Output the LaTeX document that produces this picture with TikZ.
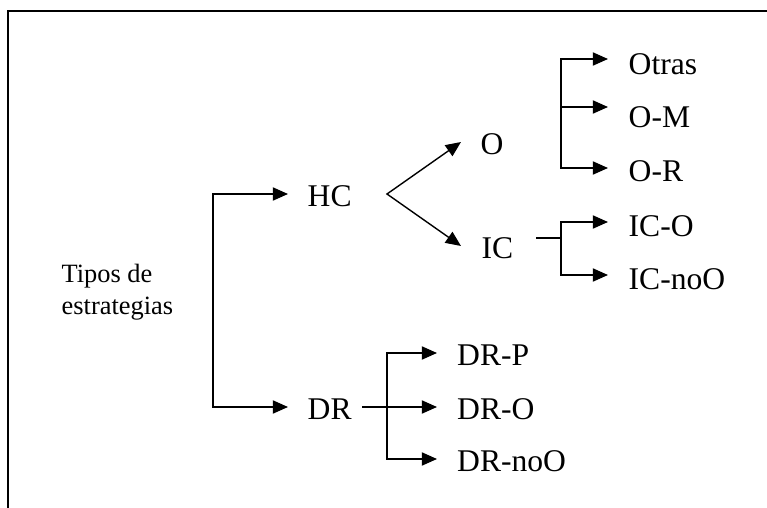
\documentclass[tikz,border=0pt]{standalone}
\usepackage{fontspec}
\setmainfont{Liberation Serif}
\usetikzlibrary{arrows.meta}

\begin{document}
\begin{tikzpicture}[x=0.5pt,y=-0.5pt,line width=0.7pt,
  item node/.style={inner sep=0pt,anchor=base west,font=\fontsize{15.8}{19}\selectfont},
  arr/.style={-{Triangle[length=7.6pt,width=6.6pt]}},
  twoarr/.style={{Triangle[length=7.6pt,width=6.6pt]}-{Triangle[length=7.6pt,width=6.6pt]}}]

  \useasboundingbox (0,0) rectangle (767,508);
  \draw[line width=1pt] (767,11) -- (8,11) -- (8,508);

  \node[inner sep=0pt,anchor=north west,align=left,font=\fontsize{13.2}{16}\selectfont] at (61,263) (tipos) {Tipos de\\estrategias};

  \node[item node] at (307,207) (hc) {HC};
  \node[item node] at (307,419) (dr) {DR};
  \node[item node] at (480,155) (o) {O};
  \node[item node] at (481,259) (ic) {IC};
  \node[item node] at (628,75) (otras) {Otras};
  \node[item node] at (628,128) (om) {O-M};
  \node[item node] at (628,181.5) (or) {O-R};
  \node[item node] at (628,236.5) (ico) {IC-O};
  \node[item node] at (628,290) (icnoo) {IC-noO};
  \node[item node] at (456.5,365) (drp) {DR-P};
  \node[item node] at (456.5,419) (dro) {DR-O};
  \node[item node] at (456.5,471.5) (drnoo) {DR-noO};

  \coordinate (root top) at (213,194);
  \coordinate (root bot) at (213,407);
  \coordinate (hc in) at (288,194);
  \coordinate (dr in) at (288,407);
  \coordinate (hc fork) at (387,194);
  \coordinate (o in) at (461,142);
  \coordinate (ic in) at (461,246);
  \coordinate (o top) at (561,59);
  \coordinate (o mid) at (561,107);
  \coordinate (o bot) at (561,168);
  \coordinate (otras in) at (608,59);
  \coordinate (om in) at (608,107);
  \coordinate (or in) at (608,168);
  \coordinate (ic out) at (536,238);
  \coordinate (ic fork) at (561,238);
  \coordinate (ic top) at (561,222);
  \coordinate (ic bot) at (561,275);
  \coordinate (ico in) at (608,222);
  \coordinate (icnoo in) at (608,275);
  \coordinate (dr out) at (362,407);
  \coordinate (dr top) at (387,353);
  \coordinate (dr bot) at (387,459);
  \coordinate (drp in) at (437,353);
  \coordinate (dro in) at (437,407);
  \coordinate (drnoo in) at (437,459);

  \draw[twoarr] (hc in) -- (root top) -- (root bot) -- (dr in);
  \draw[twoarr] (o in) -- (hc fork) -- (ic in);
  \draw[twoarr] (otras in) -- (o top) -- (o bot) -- (or in);
  \draw[arr] (o mid) -- (om in);
  \draw (ic out) -- (ic fork);
  \draw[twoarr] (ico in) -- (ic top) -- (ic bot) -- (icnoo in);
  \draw[twoarr] (drp in) -- (dr top) -- (dr bot) -- (drnoo in);
  \draw[arr] (dr out) -- (dro in);
\end{tikzpicture}
\end{document}
